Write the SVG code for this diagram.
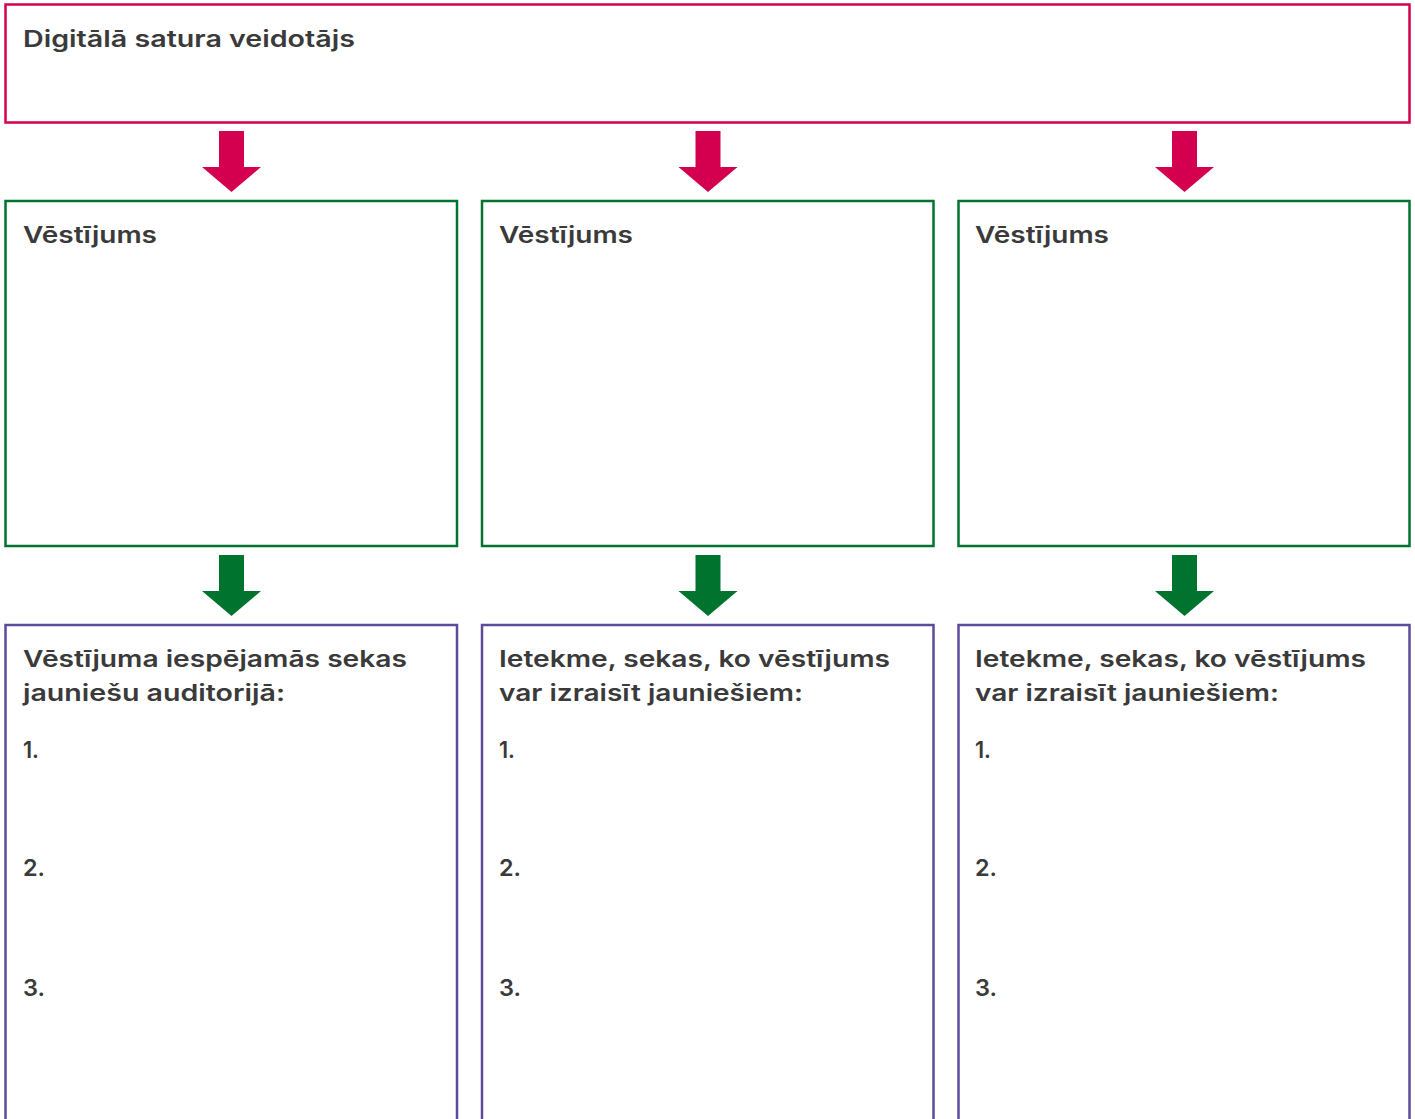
<svg xmlns="http://www.w3.org/2000/svg" width="1415" height="1119" viewBox="0 0 1415 1119">
<style>
  .t { font-family: Inter, "Noto Sans", "Liberation Sans", sans-serif; font-weight: 600; font-size: 23px; fill: #3a3a3a; }
  .red { fill: none; stroke: #d4004f; stroke-width: 2.5; }
  .grn { fill: none; stroke: #00732f; stroke-width: 2.5; }
  .pur { fill: none; stroke: #5e4a9c; stroke-width: 2.5; }
  .ared { fill: #d4004f; }
  .agrn { fill: #00732f; }
</style>
<defs>
  <path id="arr" d="M-12.5 0 H12.5 V36 H29.5 L0 61 L-29.5 36 H-12.5 Z"/>
</defs>
<rect width="1415" height="1119" fill="#ffffff"/>
<g id="creator">
  <rect class="red" x="5.5" y="4.5" width="1404" height="118"/>
  <text class="t" x="23" y="47" textLength="332" lengthAdjust="spacingAndGlyphs">Digitālā satura veidotājs</text>
</g>
<g id="msg1">
  <rect class="grn" x="5.5" y="201" width="451.5" height="345"/>
  <text class="t" x="23" y="243" textLength="134" lengthAdjust="spacingAndGlyphs">Vēstījums</text>
</g>
<g id="msg2">
  <rect class="grn" x="482" y="201" width="451.5" height="345"/>
  <text class="t" x="499" y="243" textLength="134" lengthAdjust="spacingAndGlyphs">Vēstījums</text>
</g>
<g id="msg3">
  <rect class="grn" x="958.5" y="201" width="451" height="345"/>
  <text class="t" x="975" y="243" textLength="134" lengthAdjust="spacingAndGlyphs">Vēstījums</text>
</g>
<g id="eff1">
  <rect class="pur" x="5.5" y="625" width="451.5" height="520"/>
  <text class="t" x="23" y="667" textLength="384" lengthAdjust="spacingAndGlyphs">Vēstījuma iespējamās sekas</text>
  <text class="t" x="23" y="701" textLength="262" lengthAdjust="spacingAndGlyphs">jauniešu auditorijā:</text>
  <text class="t" x="23" y="758" textLength="16" lengthAdjust="spacingAndGlyphs">1.</text>
  <text class="t" x="23" y="876" textLength="22" lengthAdjust="spacingAndGlyphs">2.</text>
  <text class="t" x="23" y="996" textLength="22" lengthAdjust="spacingAndGlyphs">3.</text>
</g>
<g id="eff2">
  <rect class="pur" x="482" y="625" width="451.5" height="520"/>
  <text class="t" x="499" y="667" textLength="391" lengthAdjust="spacingAndGlyphs">Ietekme, sekas, ko vēstījums</text>
  <text class="t" x="499" y="701" textLength="304" lengthAdjust="spacingAndGlyphs">var izraisīt jauniešiem:</text>
  <text class="t" x="499" y="758" textLength="16" lengthAdjust="spacingAndGlyphs">1.</text>
  <text class="t" x="499" y="876" textLength="22" lengthAdjust="spacingAndGlyphs">2.</text>
  <text class="t" x="499" y="996" textLength="22" lengthAdjust="spacingAndGlyphs">3.</text>
</g>
<g id="eff3">
  <rect class="pur" x="958.5" y="625" width="451" height="520"/>
  <text class="t" x="975" y="667" textLength="391" lengthAdjust="spacingAndGlyphs">Ietekme, sekas, ko vēstījums</text>
  <text class="t" x="975" y="701" textLength="304" lengthAdjust="spacingAndGlyphs">var izraisīt jauniešiem:</text>
  <text class="t" x="975" y="758" textLength="16" lengthAdjust="spacingAndGlyphs">1.</text>
  <text class="t" x="975" y="876" textLength="22" lengthAdjust="spacingAndGlyphs">2.</text>
  <text class="t" x="975" y="996" textLength="22" lengthAdjust="spacingAndGlyphs">3.</text>
</g>
<g id="connectors">
  <use href="#arr" class="ared" x="231.5" y="131"/>
  <use href="#arr" class="ared" x="708" y="131"/>
  <use href="#arr" class="ared" x="1184.5" y="131"/>
  <use href="#arr" class="agrn" x="231.5" y="555"/>
  <use href="#arr" class="agrn" x="708" y="555"/>
  <use href="#arr" class="agrn" x="1184.5" y="555"/>
</g>
</svg>
